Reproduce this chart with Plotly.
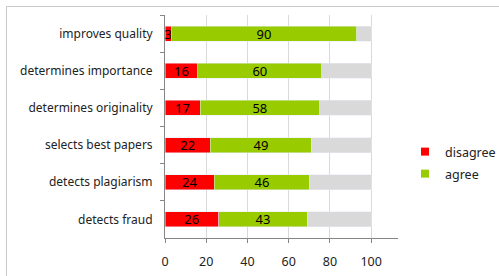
import plotly.graph_objects as go

categories = ["improves quality", "determines importance", "determines originality",
              "selects best papers", "detects plagiarism", "detects fraud"]
disagree = [3, 16, 17, 22, 24, 26]
agree = [90, 60, 58, 49, 46, 43]
neutral = [100 - d - a for d, a in zip(disagree, agree)]

RED = "#FF0000"
GREEN = "#99CC00"
GRAY = "#D9D9D9"
FONT = "Noto Sans"

fig = go.Figure()
fig.add_trace(go.Bar(y=categories, x=disagree, orientation="h", marker_color=RED,
                     text=[str(v) for v in disagree], textposition="inside", textangle=0,
                     insidetextanchor="middle", textfont=dict(color="black", size=13, family=FONT),
                     constraintext="none",
                     showlegend=False, name="disagree", cliponaxis=False))
fig.add_trace(go.Bar(y=categories, x=agree, orientation="h", marker_color=GREEN,
                     text=[str(v) for v in agree], textposition="inside", textangle=0,
                     insidetextanchor="middle", textfont=dict(color="black", size=13, family=FONT),
                     constraintext="none",
                     showlegend=False, name="agree"))
fig.add_trace(go.Bar(y=categories, x=neutral, orientation="h", marker_color=GRAY,
                     showlegend=False, name="neutral", hoverinfo="skip"))
# legend entries with small square markers
fig.add_trace(go.Scatter(x=[None], y=[None], mode="markers", name="disagree", legend="legend",
                         marker=dict(symbol="square", size=8, color=RED)))
fig.add_trace(go.Scatter(x=[None], y=[None], mode="markers", name="agree", legend="legend2",
                         marker=dict(symbol="square", size=8, color=GREEN)))

W, H = 499, 276
L, T = 165, 15
R, B = W - 398, H - 238
pw, ph = W - L - R, H - T - B

def px(x):
    return (x - L) / pw

def py(y):
    return 1 - (y - T) / ph

# chart-area border (cropped at right and bottom in the reference)
fig.add_shape(type="line", xref="paper", yref="paper",
              x0=px(6.5), x1=px(520), y0=py(6.5), y1=py(6.5),
              line=dict(color="#C8C8C8", width=1), layer="above")
fig.add_shape(type="line", xref="paper", yref="paper",
              x0=px(6.5), x1=px(6.5), y0=py(6.5), y1=py(300),
              line=dict(color="#C8C8C8", width=1), layer="above")

leg_common = dict(xanchor="left", yanchor="top", font=dict(size=12.5, family=FONT),
                  itemwidth=30, bgcolor="rgba(0,0,0,0)")
fig.update_layout(
    width=W, height=H, barmode="stack", bargap=0.6,
    margin=dict(l=L, r=R, t=T, b=B, autoexpand=False),
    paper_bgcolor="white", plot_bgcolor="white",
    font=dict(family=FONT, size=12, color="#222222"),
    uniformtext=dict(minsize=13, mode="show"),
    legend=dict(x=px(405), y=py(137), **leg_common),
    legend2=dict(x=px(405), y=py(159), **leg_common),
)
fig.update_xaxes(range=[0, 113], tickvals=[0, 20, 40, 60, 80, 100],
                 showgrid=True, gridcolor="#D9D9D9", gridwidth=1,
                 showline=True, linecolor="#868686", linewidth=1,
                 ticks="outside", ticklen=4, tickcolor="#868686",
                 zeroline=False, ticklabelstandoff=8, automargin=False,
                 tickfont=dict(size=12.5, family=FONT, color="#222222"))
fig.update_yaxes(type="category", categoryorder="array", categoryarray=categories,
                 autorange="reversed", tickson="boundaries",
                 showline=True, linecolor="#868686", linewidth=1,
                 ticks="outside", ticklen=4, tickcolor="#868686",
                 showgrid=False, ticklabelstandoff=9, automargin=False,
                 tickfont=dict(size=12, family=FONT, color="#222222"))

fig.write_html("out.html", config={"displayModeBar": False},
               post_script="document.body.style.margin='0px';")
